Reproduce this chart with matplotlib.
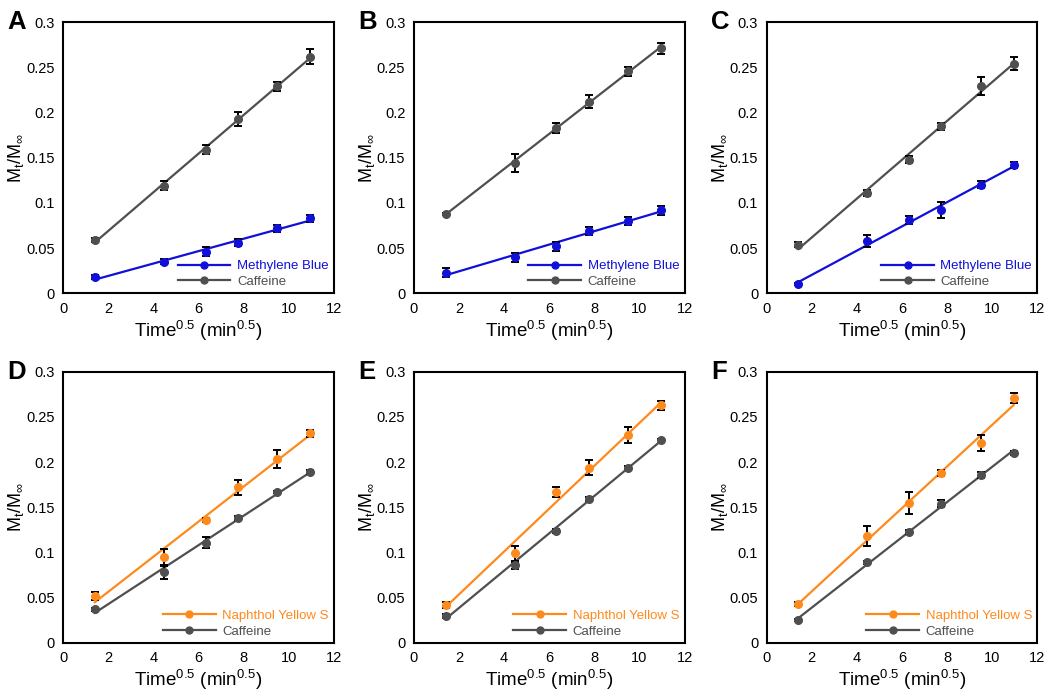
import numpy as np
import matplotlib
matplotlib.use('Agg')
import matplotlib.pyplot as plt
from matplotlib.lines import Line2D
from matplotlib.ticker import FuncFormatter

plt.rcParams['font.family'] = ['Liberation Sans', 'DejaVu Sans']
plt.rcParams['mathtext.fontset'] = 'custom'
plt.rcParams['mathtext.rm'] = 'Liberation Sans'
plt.rcParams['mathtext.it'] = 'Liberation Sans:italic'

# sqrt of sampling times (min^0.5)
time_sqrt = [1.41, 4.47, 6.32, 7.75, 9.49, 10.95]

panels = ['A', 'B', 'C', 'D', 'E', 'F']
dye_names = ['Methylene Blue'] * 3 + ['Naphthol Yellow S'] * 3

dye_mean = [
    [0.018, 0.035, 0.046, 0.056, 0.072, 0.083],
    [0.023, 0.040, 0.052, 0.069, 0.080, 0.092],
    [0.010, 0.058, 0.081, 0.092, 0.120, 0.142],
    [0.052, 0.095, 0.136, 0.172, 0.203, 0.232],
    [0.042, 0.099, 0.167, 0.194, 0.230, 0.263],
    [0.043, 0.118, 0.155, 0.188, 0.221, 0.271],
]
dye_err = [
    [0.002, 0.003, 0.005, 0.004, 0.004, 0.004],
    [0.005, 0.005, 0.005, 0.004, 0.004, 0.005],
    [0.001, 0.007, 0.004, 0.009, 0.004, 0.003],
    [0.004, 0.009, 0.002, 0.008, 0.010, 0.004],
    [0.003, 0.008, 0.005, 0.008, 0.009, 0.005],
    [0.002, 0.011, 0.012, 0.003, 0.009, 0.006],
]
caf_mean = [
    [0.059, 0.119, 0.159, 0.193, 0.229, 0.262],
    [0.088, 0.144, 0.183, 0.212, 0.246, 0.271],
    [0.054, 0.111, 0.148, 0.185, 0.229, 0.254],
    [0.037, 0.078, 0.111, 0.138, 0.167, 0.189],
    [0.030, 0.086, 0.124, 0.159, 0.194, 0.225],
    [0.025, 0.089, 0.123, 0.154, 0.186, 0.210],
]
caf_err = [
    [0.002, 0.005, 0.005, 0.008, 0.005, 0.008],
    [0.001, 0.010, 0.006, 0.007, 0.005, 0.006],
    [0.003, 0.003, 0.004, 0.004, 0.010, 0.007],
    [0.002, 0.007, 0.006, 0.002, 0.001, 0.002],
    [0.002, 0.004, 0.002, 0.002, 0.002, 0.001],
    [0.001, 0.002, 0.002, 0.004, 0.003, 0.002],
]

blue = '#1010d8'
orange = '#ff8a1c'
gray = '#4f4f4f'

fig = plt.figure(figsize=(10.5, 6.95), dpi=100)

lefts = [0.060, 0.394, 0.730]
bottoms = [0.578, 0.075]
w, h = 0.258, 0.390

x = np.array(time_sqrt)
for i, letter in enumerate(panels):
    ax = fig.add_axes([lefts[i % 3], bottoms[i // 3], w, h])
    dye_color = blue if i < 3 else orange

    for mean, err, col in [(caf_mean[i], caf_err[i], gray), (dye_mean[i], dye_err[i], dye_color)]:
        m, b = np.polyfit(x, mean, 1)
        ax.plot(x, m * x + b, color=col, lw=1.6, zorder=2)
        ax.errorbar(x, mean, yerr=err, fmt='o', ms=5.5, color=col, ecolor='black',
                    elinewidth=1.4, capsize=3, capthick=1.4, zorder=3)

    ax.set_xlim(0, 12)
    ax.set_ylim(0, 0.3)
    ax.set_xticks(range(0, 13, 2))
    ax.set_yticks(np.arange(0, 0.31, 0.05))
    ax.yaxis.set_major_formatter(FuncFormatter(lambda v, p: f'{v:.2f}'.rstrip('0').rstrip('.') if v != 0 else '0'))
    ax.tick_params(length=0, labelsize=10.5, pad=6)
    for s in ax.spines.values():
        s.set_linewidth(1.5)

    ax.set_xlabel(r'Time$\mathregular{^{0.5}}$ (min$\mathregular{^{0.5}}$)', fontsize=13.5, labelpad=2)
    ax.set_ylabel(r'M$\mathregular{_t}$/M$\mathregular{_∞}$', fontsize=13, labelpad=0)

    handles = [Line2D([], [], color=dye_color, marker='o', ms=5, lw=1.6),
               Line2D([], [], color=gray, marker='o', ms=5, lw=1.6)]
    ax.legend(handles, [dye_names[i], 'Caffeine'], loc='lower right', frameon=False,
              fontsize=9.5, handlelength=4.0, labelcolor=[dye_color, gray],
              borderaxespad=0.0, handletextpad=0.5, labelspacing=0.25)

    ax.text(-0.205, 1.045, letter, transform=ax.transAxes, fontsize=18.5,
            fontweight='bold', va='top', ha='left')

fig.savefig('out.png', dpi=100)
